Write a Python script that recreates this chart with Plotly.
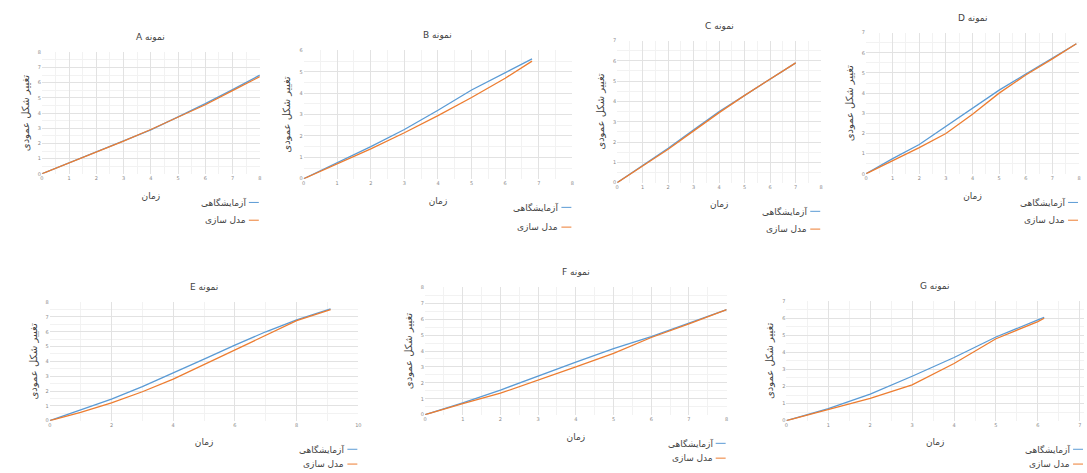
import plotly.graph_objects as go

W, H = 1087, 473

# ---------------- data ----------------
titles = ["نمونه A", "نمونه B", "نمونه C", "نمونه D", "نمونه E", "نمونه F", "نمونه G"]
x_label = "زمان"
y_label = "تغییر شکل عمودی"
series_names = ["آزمایشگاهی", "مدل سازی"]

time_A = [0, 1, 2, 3, 4, 5, 6, 7, 8]
lab_A = [0, 0.72, 1.45, 2.18, 2.9, 3.75, 4.62, 5.55, 6.5]
mod_A = [0, 0.7, 1.42, 2.15, 2.92, 3.72, 4.55, 5.48, 6.4]

time_B = [0, 1, 2, 3, 4, 5, 6, 6.8]
lab_B = [0, 0.75, 1.5, 2.3, 3.2, 4.15, 4.95, 5.6]
mod_B = [0, 0.7, 1.4, 2.15, 2.95, 3.8, 4.7, 5.5]

time_C = [0, 1, 2, 3, 4, 5, 6, 7]
lab_C = [0, 0.85, 1.7, 2.6, 3.5, 4.3, 5.1, 5.9]
mod_C = [0, 0.82, 1.65, 2.55, 3.45, 4.3, 5.1, 5.9]

time_D = [0, 1, 2, 3, 4, 5, 6, 7, 7.9]
lab_D = [0, 0.75, 1.45, 2.35, 3.25, 4.15, 4.95, 5.75, 6.45]
mod_D = [0, 0.65, 1.3, 2.0, 2.95, 4.0, 4.9, 5.7, 6.45]

time_E = [0, 1, 2, 3, 4, 5, 6, 7, 8, 9.1]
lab_E = [0, 0.7, 1.45, 2.3, 3.2, 4.15, 5.1, 6.0, 6.8, 7.55]
mod_E = [0, 0.55, 1.2, 1.95, 2.8, 3.8, 4.8, 5.8, 6.75, 7.5]

time_F = [0, 1, 2, 3, 4, 5, 6, 7, 8]
lab_F = [0, 0.75, 1.55, 2.45, 3.3, 4.15, 4.9, 5.75, 6.6]
mod_F = [0, 0.7, 1.35, 2.15, 3.0, 3.85, 4.85, 5.7, 6.6]

time_G = [0, 1, 2, 3, 4, 5, 6, 6.15]
lab_G = [0, 0.7, 1.55, 2.6, 3.7, 4.9, 5.9, 6.05]
mod_G = [0, 0.65, 1.3, 2.1, 3.35, 4.8, 5.8, 6.0]

x_ranges = [(0, 8), (0, 8), (0, 8), (0, 8), (0, 10), (0, 8), (0, 7.1)]
x_dticks = [1, 1, 1, 1, 2, 1, 1]
y_ranges = [(0, 8), (0, 6), (0, 7), (0, 7), (0, 8), (0, 8), (0, 7)]

samples = [
    (time_A, lab_A, mod_A), (time_B, lab_B, mod_B), (time_C, lab_C, mod_C),
    (time_D, lab_D, mod_D), (time_E, lab_E, mod_E), (time_F, lab_F, mod_F),
    (time_G, lab_G, mod_G),
]

# ---------------- layout (pixel boxes) ----------------
# (left, right, top, bottom) of plot areas in pixels
boxes = [
    (40, 259, 50, 173),
    (303, 573, 48, 178),
    (618, 823, 38, 182),
    (868, 1082, 30, 173),
    (48, 358, 303, 423),
    (425, 728, 288, 417),
    (788, 1087, 302, 423),
]
legend_gap = [18, 20, 18, 18, 15, 15, 15]

BLUE = "#5b9bd5"
ORANGE = "#ed7d31"
FONT = "DejaVu Sans"
TXT = "#3f3f3f"


def px(x):
    return x / W


def py(y):
    return 1 - y / H


fig = go.Figure()
annotations = []
shapes = []

for i, ((t, lab, mod), (l, r, tp, b)) in enumerate(zip(samples, boxes)):
    n = "" if i == 0 else str(i + 1)
    xa, ya = "x" + n, "y" + n
    for vals, col in ((lab, BLUE), (mod, ORANGE)):
        fig.add_trace(go.Scatter(x=t, y=vals, mode="lines", xaxis=xa, yaxis=ya,
                                 line=dict(color=col, width=1.3), showlegend=False,
                                 hoverinfo="skip"))
    fig.layout["xaxis" + n] = dict(
        domain=[px(l), px(r)], anchor=ya, range=list(x_ranges[i]), dtick=x_dticks[i],
        showgrid=True, gridcolor="#e2e2e2", gridwidth=0.8,
        minor=dict(showgrid=True, gridcolor="#f2f2f2", dtick=x_dticks[i] / 2),
        zeroline=False, showline=False, ticks="",
        tickfont=dict(size=5, color="#8a8a8a", family=FONT),
        title=dict(text=x_label, font=dict(size=9, color=TXT, family=FONT), standoff=12),
    )
    fig.layout["yaxis" + n] = dict(
        domain=[py(b), py(tp)], anchor=xa, range=list(y_ranges[i]), dtick=1,
        showgrid=True, gridcolor="#e2e2e2", gridwidth=0.8,
        minor=dict(showgrid=True, gridcolor="#f2f2f2", dtick=0.5),
        zeroline=False, showline=False, ticks="",
        tickfont=dict(size=5, color="#8a8a8a", family=FONT),
        title=dict(text=y_label, font=dict(size=10, color=TXT, family=FONT), standoff=6),
    )
    # title
    annotations.append(dict(
        text="\u202b" + titles[i] + "\u202c", xref="paper", yref="paper",
        x=px((l + r) / 2), y=py(tp - 8), xanchor="center", yanchor="bottom",
        showarrow=False, font=dict(size=9, color=TXT, family=FONT)))
    # legend (text left, short line right)
    for k, (name, col) in enumerate(zip(series_names, (BLUE, ORANGE))):
        yy = b + 29 + k * legend_gap[i]
        lx1 = min(r - 1, W - 1)
        lx0 = lx1 - 10
        shapes.append(dict(type="line", xref="paper", yref="paper",
                           x0=px(lx0), x1=px(lx1), y0=py(yy), y1=py(yy),
                           line=dict(color=col, width=1)))
        annotations.append(dict(
            text=name, xref="paper", yref="paper", x=px(lx0 - 1), y=py(yy),
            xanchor="right", yanchor="middle", showarrow=False,
            font=dict(size=9, color=TXT, family=FONT)))

fig.update_layout(
    width=W, height=H,
    margin=dict(l=0, r=0, t=0, b=0),
    paper_bgcolor="white", plot_bgcolor="white",
    annotations=annotations, shapes=shapes,
    showlegend=False,
)

fig.write_html("out.html")
